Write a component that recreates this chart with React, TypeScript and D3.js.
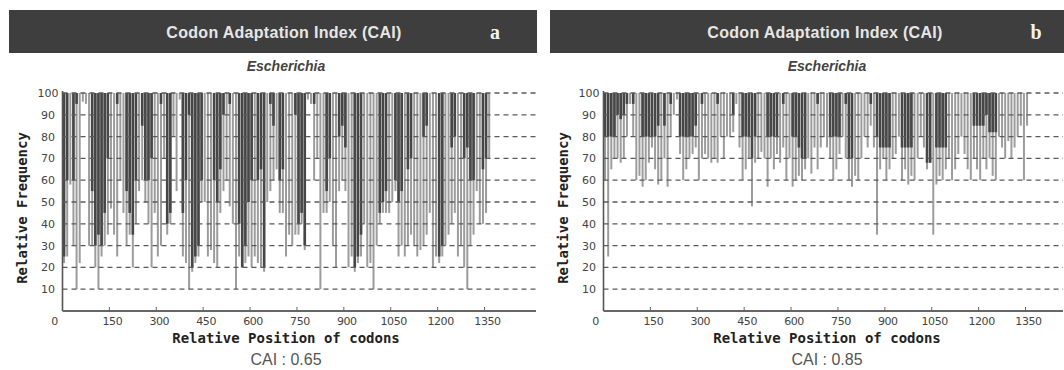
import React from 'react';
import * as d3 from 'd3';

// tick labels
const xTicks = [0, 150, 300, 450, 600, 750, 900, 1050, 1200, 1350];
const yTicks = [10, 20, 30, 40, 50, 60, 70, 80, 90, 100];

// codons are grouped in bins of 10; "dark" = where the dense dark part stops,
// "low" = lowest relative adaptiveness reached in the bin (light line)
const BIN = 10;

const darkA = [
  25, 60, 100, 60, 95, 100, 100, 100, 100, 55,
  30, 35, 30, 45, 70, 100, 100, 95, 100, 100,
  55, 45, 35, 60, 100, 85, 60, 60, 70, 100,
  100, 95, 100, 40, 45, 100, 100, 100, 45, 60,
  90, 20, 25, 30, 60, 100, 100, 100, 60, 50,
  65, 90, 100, 95, 100, 100, 40, 20, 30, 50,
  60, 100, 60, 65, 20, 100, 95, 85, 100, 60,
  65, 100, 100, 100, 90, 40, 45, 30, 100, 100,
  95, 100, 100, 100, 55, 70, 100, 100, 80, 85,
  75, 100, 100, 20, 25, 35, 100, 100, 100, 100,
  100, 45, 50, 55, 100, 100, 60, 50, 55, 100,
  65, 70, 100, 100, 100, 80, 85, 100, 100, 100,
  25, 30, 100, 100, 75, 80, 100, 100, 70, 75,
  60, 60, 100, 100, 65, 70, 100,
];
const lowA = [
  22, 25, 58, 30, 10, 22, 96, 95, 30, 30,
  20, 10, 25, 30, 35, 47, 35, 25, 60, 45,
  30, 35, 20, 40, 55, 60, 50, 40, 20, 45,
  25, 30, 70, 35, 40, 80, 55, 97, 25, 22,
  10, 18, 22, 25, 50, 50, 25, 28, 22, 20,
  45, 55, 60, 48, 40, 10, 25, 20, 22, 25,
  20, 25, 22, 20, 18, 50, 55, 60, 65, 45,
  45, 25, 35, 30, 35, 35, 40, 28, 97, 95,
  60, 70, 10, 45, 45, 50, 30, 20, 55, 60,
  55, 20, 25, 18, 22, 25, 40, 20, 22, 10,
  30, 40, 45, 45, 45, 50, 55, 25, 30, 25,
  30, 35, 30, 25, 28, 30, 35, 45, 20, 25,
  22, 25, 30, 35, 40, 45, 25, 30, 20, 10,
  30, 35, 55, 40, 40, 45, 70,
];

const darkB = [
  80, 80, 80, 80, 90, 88, 90, 95, 100, 95,
  100, 100, 80, 80, 80, 80, 80, 85, 100, 85,
  100, 95, 100, 100, 80, 80, 80, 80, 80, 85,
  100, 95, 100, 100, 100, 100, 95, 100, 100, 100,
  100, 90, 100, 100, 80, 80, 80, 70, 80, 100,
  100, 100, 80, 80, 80, 80, 100, 95, 100, 100,
  80, 80, 75, 70, 70, 100, 100, 100, 95, 100,
  100, 100, 80, 80, 80, 80, 100, 95, 70, 70,
  100, 100, 100, 100, 100, 95, 100, 80, 75, 75,
  75, 75, 100, 100, 100, 75, 75, 75, 75, 100,
  100, 100, 100, 68, 68, 100, 75, 75, 75, 75,
  100, 100, 100, 100, 100, 100, 100, 100, 85, 85,
  85, 85, 90, 82, 82, 82, 100, 100, 100, 100,
  100, 100, 100, 100, 100, 100, 100,
];
const lowB = [
  60, 25, 65, 70, 70, 68, 70, 80, 95, 80,
  60, 62, 57, 60, 68, 75, 65, 58, 60, 70,
  57, 80, 90, 97, 72, 60, 65, 70, 72, 75,
  60, 70, 72, 70, 68, 70, 68, 80, 70, 80,
  80, 82, 95, 75, 60, 65, 70, 48, 68, 70,
  73, 70, 57, 70, 65, 72, 68, 75, 60, 70,
  57, 60, 62, 60, 65, 70, 63, 75, 65, 75,
  80, 75, 70, 60, 65, 72, 80, 70, 60, 57,
  62, 60, 70, 80, 75, 85, 75, 35, 65, 70,
  60, 65, 70, 72, 80, 60, 65, 58, 62, 60,
  70, 80, 75, 65, 68, 35, 58, 62, 60, 65,
  70, 60, 65, 72, 80, 72, 65, 60, 70, 65,
  60, 70, 65, 70, 62, 60, 80, 75, 70, 78,
  70, 75, 80, 85, 60, 85, 100,
];

interface PanelProps {
  offset: number;
  letter: string;
  cai: string;
  dark: number[];
  low: number[];
}

const Panel: React.FC<PanelProps> = ({ offset, letter, cai, dark, low }) => {
  const x = d3.scaleLinear().domain([0, 1350]).range([offset + 62.5, offset + 484.5]);
  const y = d3.scaleLinear().domain([0, 100]).range([311, 93]);
  const xEnd = Math.min(offset + 536, 1063);
  const binW = x(BIN) - x(0);
  const sans = '"Liberation Sans", Arial, sans-serif';
  const mono = '"DejaVu Sans Mono", monospace';

  return (
    <g>
      {/* header */}
      <rect x={offset + 9} y={10} width={528} height={43} fill="#3e3e3e" />
      <text x={offset + 284} y={37.5} textAnchor="middle" fill="#e6e6e6"
        fontFamily={sans} fontWeight="bold" fontSize={16} letterSpacing={0.3}>
        Codon Adaptation Index (CAI)
      </text>
      <text x={offset + 495} y={39} textAnchor="middle" fill="#f2f2f2"
        fontFamily='"Liberation Serif", serif' fontWeight="bold" fontSize={20}>
        {letter}
      </text>
      <text x={offset + 286} y={71} textAnchor="middle" fill="#444"
        fontFamily={sans} fontWeight="bold" fontStyle="italic" fontSize={14}>
        Escherichia
      </text>

      {/* light lines */}
      {low.map((v, i) => (
        <rect key={`l${i}`} x={x(i * BIN + BIN / 2) - 1} width={2}
          y={y(100)} height={Math.max(0, y(v) - y(100))} fill="#9c9c9c" />
      ))}
      {/* dark part */}
      {dark.map((v, i) => (
        <rect key={`d${i}`} x={x(i * BIN) + 0.25} width={binW - 0.5}
          y={y(100)} height={Math.max(0, y(v) - y(100))} fill="#464646" />
      ))}

      {/* dashed grid */}
      {yTicks.map(t => (
        <line key={`g${t}`} x1={x(0)} x2={xEnd} y1={y(t)} y2={y(t)}
          stroke="#5a5a5a" strokeWidth={1.3} strokeDasharray="5,4" />
      ))}

      {/* axes */}
      <line x1={x(0)} x2={x(0)} y1={y(100) - 2} y2={y(0)} stroke="#555" strokeWidth={1.6} />
      <line x1={x(0)} x2={xEnd} y1={y(0)} y2={y(0)} stroke="#666" strokeWidth={2} />
      {xTicks.slice(1).map(t => (
        <line key={`t${t}`} x1={x(t)} x2={x(t)} y1={y(0)} y2={y(0) - 4} stroke="#666" strokeWidth={1} />
      ))}
      {yTicks.map(t => (
        <text key={`yl${t}`} x={offset + 48} y={y(t) + 4} textAnchor="middle" fill="#444"
          fontFamily='"DejaVu Sans", sans-serif' fontSize={11}>
          {t}
        </text>
      ))}
      {xTicks.map(t => (
        <text key={`xl${t}`} x={t === 0 ? x(t) - 8 : x(t) + 3} y={325} textAnchor="middle" fill="#444"
          fontFamily='"DejaVu Sans", sans-serif' fontSize={11} letterSpacing={-0.4}>
          {t}
        </text>
      ))}

      {/* axis titles */}
      <text x={offset + 286} y={343} textAnchor="middle" fill="#222"
        fontFamily={mono} fontWeight="bold" fontSize={14}>
        Relative Position of codons
      </text>
      <text transform={`translate(${offset + 27},208) rotate(-90)`} textAnchor="middle" fill="#222"
        fontFamily={mono} fontWeight="bold" fontSize={14}>
        Relative Frequency
      </text>

      <text x={offset + 286} y={365} textAnchor="middle" fill="#555"
        fontFamily={sans} fontSize={16}>
        CAI : {cai}
      </text>
    </g>
  );
};

export default function App() {
  return (
    <svg width={1064} height={370} style={{ position: 'absolute', left: 0, top: 0, background: '#fff' }}>
      <rect width={1064} height={370} fill="#fff" />
      <Panel offset={0} letter="a" cai="0.65" dark={darkA} low={lowA} />
      <Panel offset={541} letter="b" cai="0.85" dark={darkB} low={lowB} />
    </svg>
  );
}
